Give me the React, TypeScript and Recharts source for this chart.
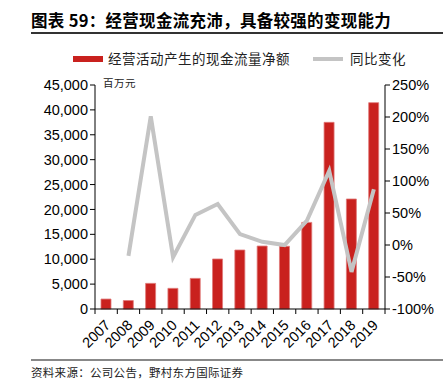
import { ComposedChart, Bar, Line, XAxis, YAxis } from 'recharts'

const years = ['2007', '2008', '2009', '2010', '2011', '2012', '2013', '2014', '2015', '2016', '2017', '2018', '2019']
const cashFlow = [2000, 1700, 5150, 4150, 6150, 10050, 11850, 12650, 12600, 17400, 37500, 22100, 41450]
const yoy = [null, -17, 201, -19, 47, 64, 17, 5, 0, 38, 116, -42, 87]
const leftTicks = [0, 5000, 10000, 15000, 20000, 25000, 30000, 35000, 40000, 45000]
const rightTicks = [-100, -50, 0, 50, 100, 150, 200, 250]

const data = years.map((y, i) => ({ year: y, cash: cashFlow[i], yoy: yoy[i] }))

const FONT = '"Liberation Sans", Arial, sans-serif'
const CJK = '"Noto Sans CJK SC", sans-serif'
const RED = '#C9211E'
const GRAY = '#C4C4C4'
const BAND = 290 / years.length

function XTick(props: any) {
  const { x, y, payload, index } = props
  return (
    <g>
      <line x1={x - BAND / 2} y1={y - 8} x2={x - BAND / 2} y2={y - 3} stroke="#000" />
      {index === years.length - 1 && (
        <line x1={x + BAND / 2} y1={y - 8} x2={x + BAND / 2} y2={y - 3} stroke="#000" />
      )}
      <text
        x={x + 5}
        y={y + 9}
        textAnchor="end"
        fontSize={14.5}
        fontFamily={FONT}
        fill="#000"
        transform={`rotate(-45, ${x + 5}, ${y + 9})`}
      >
        {payload.value}
      </text>
    </g>
  )
}

export default function App() {
  return (
    <div style={{ position: 'absolute', left: 0, top: 0, width: 445, height: 384, background: '#fff', fontFamily: CJK }}>
      <div style={{ position: 'absolute', left: 31, top: 9, fontSize: 16.5, fontWeight: 700, whiteSpace: 'nowrap', lineHeight: '22px', letterSpacing: 0.3 }}>
        图表 59：经营现金流充沛，具备较强的变现能力
      </div>
      <div style={{ position: 'absolute', left: 31, top: 32, width: 412, height: 1.5, background: '#333' }} />

      <div style={{ position: 'absolute', left: 73, top: 56, width: 30, height: 6, background: RED }} />
      <div style={{ position: 'absolute', left: 108, top: 49, fontSize: 13.5, whiteSpace: 'nowrap', lineHeight: '18px', color: '#222', letterSpacing: 0.5 }}>
        经营活动产生的现金流量净额
      </div>
      <div style={{ position: 'absolute', left: 313, top: 57, width: 30, height: 4, background: GRAY }} />
      <div style={{ position: 'absolute', left: 350, top: 49, fontSize: 13.5, whiteSpace: 'nowrap', lineHeight: '18px', color: '#222', letterSpacing: 0.5 }}>
        同比变化
      </div>
      <div style={{ position: 'absolute', left: 103, top: 76, fontSize: 10.5, whiteSpace: 'nowrap', lineHeight: '14px', color: '#222', letterSpacing: 0.5 }}>
        百万元
      </div>

      <div style={{ position: 'absolute', left: 0, top: 0 }}>
        <ComposedChart width={445} height={384} data={data} margin={{ top: 85, right: 0, bottom: 25, left: 0 }}>
          <XAxis
            dataKey="year"
            interval={0}
            height={50}
            axisLine={{ stroke: '#000' }}
            tickLine={false}
            tick={<XTick />}
          />
          <YAxis
            yAxisId="left"
            domain={[0, 45000]}
            ticks={leftTicks}
            interval={0}
            width={95}
            axisLine={{ stroke: '#000' }}
            tickLine={{ stroke: '#000' }}
            tickSize={5}
            tick={{ fill: '#000', fontSize: 14.5, fontFamily: FONT }}
            tickFormatter={(v: number) => v.toLocaleString('en-US')}
          />
          <YAxis
            yAxisId="right"
            orientation="right"
            domain={[-100, 250]}
            ticks={rightTicks}
            interval={0}
            width={60}
            axisLine={{ stroke: '#000' }}
            tickLine={{ stroke: '#000' }}
            tickSize={5}
            tick={{ fill: '#000', fontSize: 14.5, fontFamily: FONT, textAnchor: 'start' }}
            tickFormatter={(v: number) => `${v}%`}
          />
          <Bar yAxisId="left" dataKey="cash" fill={RED} stroke="#E07A78" strokeWidth={0.8} barSize={10} isAnimationActive={false} />
          <Line yAxisId="right" dataKey="yoy" stroke={GRAY} strokeWidth={4} dot={false} isAnimationActive={false} />
        </ComposedChart>
      </div>

      <div style={{ position: 'absolute', left: 31, top: 359, width: 412, height: 1.5, background: '#888' }} />
      <div style={{ position: 'absolute', left: 31, top: 364, fontSize: 11.5, whiteSpace: 'nowrap', lineHeight: '16px', color: '#222', letterSpacing: 0.3 }}>
        资料来源：公司公告，野村东方国际证券
      </div>
    </div>
  )
}
